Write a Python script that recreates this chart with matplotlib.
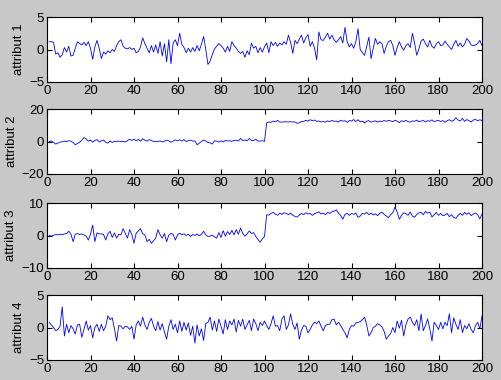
import matplotlib
matplotlib.use("Agg")
import matplotlib.pyplot as plt
import numpy as np

plt.rcParams['font.family'] = ['Liberation Sans', 'DejaVu Sans']

labels = ["attribut 1", "attribut 2", "attribut 3", "attribut 4"]
ylims = [(-5, 5), (-20, 20), (-10, 10), (-5, 5)]
yticks = [[-5, 0, 5], [-20, 0, 20], [-10, 0, 10], [-5, 0, 5]]
xticks = list(range(0, 201, 20))

attr1 = [
    1.2, 1.2, 1.1, -0.7, -0.5, -1.2, -0.8, 0.3, -0.4, 0.5, -1.0, -0.9, 0.2, 1.2, 0.9, 0.7, 1.1, 0.6, 1.2, 0.2,
    -1.5, 0.4, 1.4, 0.2, -1.4, -0.4, -0.7, -0.2, -0.5, 0.0, -0.3, 0.6, 1.2, 1.5, 0.5, 0.2, 0.1, 0.3, 0.0, 0.2,
    -0.5, -0.3, 0.4, 1.8, 0.9, 0.2, -0.5, 0.6, -0.4, 0.7, -0.6, 1.2, -1.0, 0.9, -1.9, 1.5, -2.2, 1.0, 1.5, 0.6,
    2.5, 0.8, 0.3, -0.5, 0.2, -0.4, 0.3, -0.3, 0.6, -0.2, 0.8, 2.0, 0.0, -2.3, -1.8, -0.8, 0.1, 0.5, 0.9, 0.6,
    0.2, -0.4, 0.5, -0.3, 1.2, 0.6, 0.2, -0.3, -0.6, -0.3, -1.2, -0.2, -0.8, 1.0, 0.2, 0.5, -0.5, 0.3, -0.4, 0.4,
    1.0, -0.5, 1.2, 0.6, 1.1, 0.5, 1.0, 0.7, 1.2, 0.8, 2.2, 1.1, -0.6, 1.4, 0.9, 1.6, 2.2, 1.0, 1.8, 2.3,
    0.5, 1.2, 0.2, -1.6, 2.7, 1.5, 1.4, 1.9, 2.5, 1.6, 2.2, 1.5, 1.1, 1.5, 2.0, 1.0, 3.4, 1.2, 0.4, 0.9,
    0.2, 1.2, 3.2, 0.0, -0.5, -0.9, 0.5, 1.9, -1.4, 0.2, 1.7, 0.8, 1.2, 0.9, -0.6, 0.5, 1.2, 1.4, 0.6, -0.9,
    0.3, 1.2, 0.4, -0.1, 0.6, 0.9, 0.3, 2.5, 1.0, -0.9, 0.1, 1.3, 1.6, 0.9, 0.4, 1.4, 0.5, 0.2, 0.9, 1.2,
    0.6, 0.7, 1.3, 0.8, 0.4, 0.0, 0.8, 1.4, 0.5, 1.0, 0.4, 0.8, 1.7, 1.3, 0.7, 0.6, 0.7, 0.9, 1.4, 0.6,
]
attr2 = [
    0.0, 0.3, -0.5, -1.6, -1.0, -0.4, -0.2, 0.3, -0.1, 0.5, 0.2, -0.6, -2.0, -1.2, -0.5, 0.8, 2.4, 1.6, 0.2, 0.9,
    -0.4, 0.6, 1.2, -0.3, 0.4, 0.9, -0.5, -1.0, 0.3, -0.6, 0.1, 0.0, 0.2, 0.0, 0.1, -0.3, 0.5, 1.4, 0.6, 1.5,
    0.4, 1.3, 0.2, 1.7, 0.8, 0.2, 1.2, 0.6, 0.0, 0.1, 0.1, 0.3, -0.3, 0.2, 0.9, 0.4, -0.5, 0.3, 1.0, 0.4,
    1.1, 0.3, 1.2, -0.1, 0.6, 0.8, 0.2, 0.4, -2.0, -1.0, 0.0, 0.9, 0.3, -0.6, -0.8, -1.6, 0.4, 0.2, -0.4, 0.4,
    -0.2, 0.6, 0.3, 0.5, 0.1, 0.7, 0.8, 0.3, 1.9, 0.6, 0.9, 0.4, 1.8, 0.7, 0.6, 1.4, 0.3, 0.2, 0.5, 0.1,
    11.5, 12.0, 11.8, 12.6, 12.1, 13.0, 12.0, 11.9, 12.1, 12.1, 12.0, 12.2, 12.0, 12.0, 11.2, 11.5, 12.3, 12.4, 13.0, 12.5,
    13.4, 12.8, 13.2, 12.4, 12.6, 12.0, 12.3, 11.9, 12.7, 12.2, 13.0, 12.4, 12.6, 12.0, 13.1, 12.5, 12.8, 11.8, 12.9, 12.6,
    13.5, 12.3, 13.4, 12.1, 12.6, 11.4, 12.5, 12.8, 11.9, 12.4, 12.7, 12.0, 12.6, 12.3, 12.9, 12.4, 13.0, 12.7, 12.2, 13.1,
    12.5, 11.6, 12.8, 12.3, 13.0, 12.2, 11.9, 12.7, 12.4, 13.2, 12.1, 12.6, 12.9, 12.0, 12.8, 12.5, 13.3, 12.2, 12.7, 13.0,
    12.3, 12.9, 11.8, 12.8, 13.4, 12.5, 13.0, 14.7, 13.2, 12.6, 14.2, 12.4, 13.5, 12.8, 12.0, 13.2, 13.6, 12.7, 13.4, 12.9,
]
attr3 = [
    0.0, -0.2, 0.1, 0.3, 0.2, 0.4, 0.3, 0.5, 0.6, 1.3, 0.5, -1.9, 0.4, 0.6, 0.3, 0.5, 0.2, -0.2, -1.4, 0.4,
    3.2, -1.9, 0.8, 0.5, 0.5, 0.3, -1.4, 0.5, 1.3, -0.6, 0.8, -0.8, 0.4, 0.2, 2.1, 0.6, -0.8, 1.8, 0.3, -2.4,
    0.7, 1.4, 2.1, 0.5, 0.2, -1.9, -1.2, -2.4, -1.6, -0.8, 1.8, 0.2, -0.8, 0.6, -1.9, 0.1, 0.7, 0.3, -1.4, 0.2,
    0.7, 0.3, 0.5, 0.0, 0.4, -0.3, 0.3, 0.0, 0.5, -0.1, 0.4, 1.3, 0.2, -0.3, -0.2, 0.1, -0.4, -0.8, 0.9, -0.6,
    1.5, -0.2, 1.2, 0.3, 1.6, 0.2, 1.8, 0.4, 2.3, 0.6, -0.2, 0.5, 1.4, 0.6, 0.9, -0.3, -1.2, -2.1, -1.0, -0.3,
    6.4, 6.3, 6.8, 7.1, 6.6, 6.2, 6.9, 6.5, 7.0, 6.8, 6.4, 6.9, 6.2, 5.9, 5.7, 6.3, 6.8, 6.4, 7.0, 6.6,
    6.8, 6.2, 6.7, 7.0, 7.3, 6.6, 6.9, 6.4, 7.1, 6.8, 7.3, 7.5, 7.9, 6.9, 6.2, 5.0, 6.5, 6.8, 6.2, 6.8,
    6.5, 6.9, 5.6, 6.0, 6.8, 6.6, 7.1, 6.4, 6.9, 6.3, 6.7, 6.1, 6.8, 7.2, 6.5, 6.0, 5.5, 6.4, 7.0, 8.7,
    7.2, 5.0, 6.2, 7.0, 6.7, 6.2, 7.2, 6.0, 5.6, 6.5, 7.0, 7.1, 6.4, 7.4, 6.9, 7.2, 5.7, 6.4, 7.1, 6.2,
    6.8, 6.1, 6.3, 6.8, 5.8, 6.4, 5.5, 5.3, 6.2, 6.8, 6.2, 7.1, 6.5, 7.0, 6.1, 6.6, 6.9, 6.4, 5.1, 6.6,
]
attr4 = [
    0.8, 0.4, 0.0, -0.5, -0.3, 0.2, 3.2, -1.3, 0.5, -0.8, 0.3, -0.2, -1.0, 0.4, 0.5, -1.5, -0.3, 1.0, -0.4, 0.3,
    -1.6, 0.0, 0.5, -0.6, 0.5, -0.5, 0.2, 1.8, 1.2, 1.5, -0.2, -2.1, 0.3, 0.2, -0.2, 0.2, 0.1, -0.3, 0.2, -1.8,
    0.4, 1.0, 0.2, 1.6, 0.4, -0.3, 0.8, 1.4, 0.2, -0.5, 0.9, -0.4, 0.6, -0.7, -1.8, 0.2, 1.2, -0.3, 0.5, -0.8,
    1.0, -0.6, 0.8, -0.4, 0.7, -1.2, 0.2, -2.4, 0.4, -1.3, -0.2, -2.0, 0.6, 0.8, 1.6, -0.4, 1.0, -0.6, 1.3, 0.2,
    -1.0, 1.2, -0.3, 1.0, 0.4, 1.3, -0.7, 1.1, 0.2, 1.3, -0.3, 0.4, 1.1, -0.5, 1.3, 0.6, -0.5, 0.8, 0.3, 1.0,
    0.3, -0.3, 0.6, 1.8, 0.2, 0.3, -0.5, 1.3, 1.8, -0.3, 0.4, 2.1, 0.5, -0.3, 0.7, -1.8, -0.4, 0.3, 0.2, -0.8,
    -0.3, 0.4, 0.8, 0.6, 1.0, 0.2, -0.5, 0.3, 0.5, 0.5, 1.2, 1.3, 0.4, 0.8, 0.3, -0.3, -0.8, -1.6, -0.3, 0.3,
    0.2, 0.7, 0.8, 0.9, 1.2, 1.6, 0.4, -1.3, -0.8, 0.0, 0.2, 0.6, 0.4, 0.1, -0.6, -1.8, -1.3, -0.9, 0.0, -0.8,
    1.0, -0.1, 1.1, -1.3, 0.4, 1.3, 1.6, 0.8, 0.3, 1.2, -0.5, 2.1, -0.5, 0.3, 1.3, -0.2, -2.1, 0.8, 0.3, -0.3,
    0.8, -0.2, 0.8, 0.3, 2.1, -0.8, 1.5, 0.5, -0.3, 1.2, -0.8, 0.3, -0.2, 0.6, -0.3, -0.8, 0.3, 0.8, -0.2, 1.8,
]
series = [attr1, attr2, attr3, attr4]

W, H = 501, 380
fig = plt.figure(figsize=(W / 100, H / 100), dpi=100, facecolor='#c8c8c8')

left, right = 47, 482
tops = [17, 109, 203, 295]
height = 65

for i, (vals, lab, yl, yt) in enumerate(zip(series, labels, ylims, yticks)):
    x = np.arange(1, len(vals) + 1)
    ax = fig.add_axes([left / W, 1 - (tops[i] + height) / H, (right - left) / W, height / H])
    ax.set_facecolor('white')
    ax.plot(x, vals, color='#0000ff', linewidth=0.6)
    ax.set_xlim(0, 200)
    ax.set_ylim(*yl)
    ax.set_xticks(xticks)
    ax.set_yticks(yt)
    ax.tick_params(direction='in', top=True, right=True, length=3.5, width=0.8,
                   labelsize=9.5, pad=2, colors='black')
    for s in ax.spines.values():
        s.set_linewidth(0.8)
    ax.set_ylabel(lab, fontsize=9.5, labelpad=3)

fig.savefig('out.png', dpi=100, facecolor=fig.get_facecolor())
